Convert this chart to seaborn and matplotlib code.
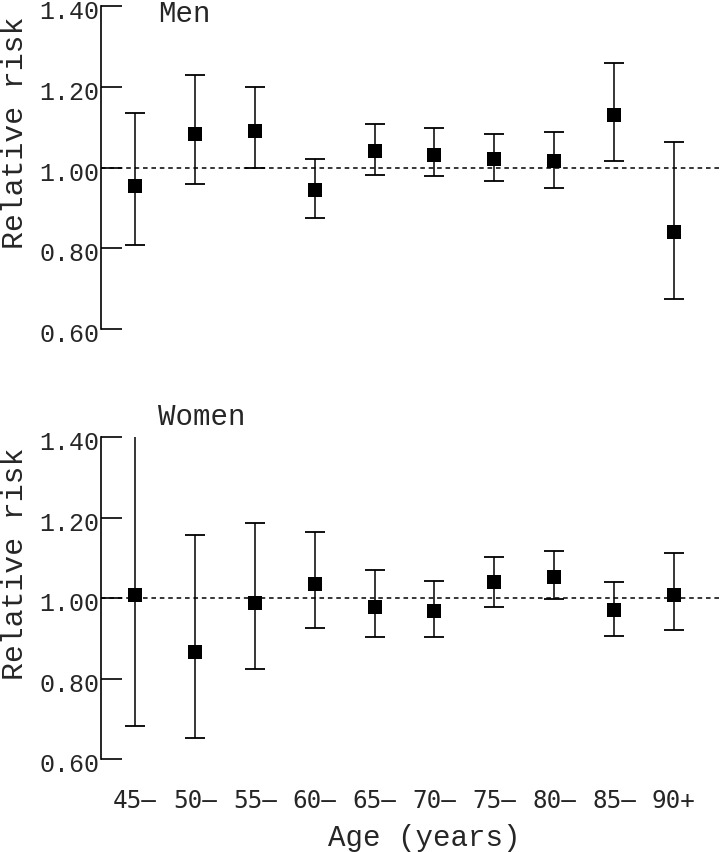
import numpy as np
import pandas as pd
import matplotlib
matplotlib.use("Agg")
import matplotlib.pyplot as plt
import matplotlib.transforms as mtransforms
import seaborn as sns

# ==========================================
# data
# ==========================================
AGE_GROUPS = ["45\u2013", "50\u2013", "55\u2013", "60\u2013", "65\u2013",
              "70\u2013", "75\u2013", "80\u2013", "85\u2013", "90+"]

MEN_RR = [0.955, 1.082, 1.090, 0.944, 1.042, 1.032, 1.022, 1.017, 1.130, 0.841]
MEN_LOW = [0.807, 0.960, 0.998, 0.876, 0.982, 0.978, 0.966, 0.950, 1.016, 0.674]
MEN_HIGH = [1.134, 1.228, 1.200, 1.021, 1.107, 1.099, 1.084, 1.088, 1.259, 1.063]

WOMEN_RR = [1.007, 0.865, 0.988, 1.035, 0.978, 0.968, 1.039, 1.053, 0.971, 1.008]
WOMEN_LOW = [0.681, 0.653, 0.823, 0.926, 0.902, 0.902, 0.978, 0.997, 0.906, 0.920]
WOMEN_HIGH = [1.480, 1.157, 1.186, 1.164, 1.070, 1.042, 1.103, 1.117, 1.041, 1.111]

Y_TICKS = [0.60, 0.80, 1.00, 1.20, 1.40]

MONO = "Liberation Mono"
SANS_MONO = "DejaVu Sans Mono"

sns.set_theme(style="white")
plt.rcParams["font.family"] = [MONO, "DejaVu Sans"]


def draw_panel(fig, ax, rr, low, high, title, title_y, show_x):
    df = pd.DataFrame({"pos": np.arange(len(AGE_GROUPS)), "rr": rr,
                       "low": low, "high": high})

    # reference line at 1.0
    ax.axhline(1.0, color="black", lw=1.1, ls=(0, (3, 2.5)), zorder=1)

    # confidence intervals
    ax.errorbar(df["pos"], df["rr"],
                yerr=[df["rr"] - df["low"], df["high"] - df["rr"]],
                fmt="none", ecolor="black", elinewidth=1.1,
                capsize=7, capthick=1.3, zorder=2, clip_on=True)

    # point estimates
    sns.scatterplot(data=df, x="pos", y="rr", marker="s", s=95,
                    color="black", edgecolor="black", linewidth=0,
                    ax=ax, zorder=3, legend=False)

    ax.set_xlim(-0.568, 9.77)
    ax.set_ylim(0.6, 1.4)

    for side in ["top", "right", "bottom"]:
        ax.spines[side].set_visible(False)
    ax.spines["left"].set_color("black")
    ax.spines["left"].set_linewidth(1.2)

    ax.set_yticks(Y_TICKS)
    ax.set_yticklabels([f"{v:.2f}" for v in Y_TICKS], fontsize=18, family=MONO)
    ax.tick_params(axis="y", direction="in", length=15, width=1.2,
                   pad=1, left=True, color="black")
    # labels sit a little below their ticks in the original
    shift = mtransforms.ScaledTranslation(0, -2.6 / 100, fig.dpi_scale_trans)
    for lab in ax.get_yticklabels():
        lab.set_transform(lab.get_transform() + shift)

    ax.set_ylabel("Relative risk", fontsize=21.5, family=MONO)
    ax.yaxis.set_label_coords(-0.116, 0.61)

    ax.set_xticks(df["pos"])
    if show_x:
        ax.set_xticklabels(AGE_GROUPS, fontsize=17.5, family=SANS_MONO)
        ax.tick_params(axis="x", length=0, pad=21)
        ax.set_xlabel("Age (years)", fontsize=21, family=MONO)
        ax.xaxis.set_label_coords(0.522, -0.200)
    else:
        ax.set_xticklabels([])
        ax.tick_params(axis="x", length=0)
        ax.set_xlabel("")

    ax.text(0.38, title_y, title, fontsize=21, family=MONO,
            ha="left", va="baseline", clip_on=False)
    ax.grid(False)


fig = plt.figure(figsize=(7.2, 8.53), dpi=100)
ax_men = fig.add_axes([0.1403, 0.6131, 0.8597, 0.3787])
ax_women = fig.add_axes([0.1403, 0.1090, 0.8597, 0.3775])

draw_panel(fig, ax_men, MEN_RR, MEN_LOW, MEN_HIGH, "Men", 1.362, show_x=False)
draw_panel(fig, ax_women, WOMEN_RR, WOMEN_LOW, WOMEN_HIGH, "Women", 1.432, show_x=True)

fig.savefig("out.png", dpi=100, facecolor="white")
